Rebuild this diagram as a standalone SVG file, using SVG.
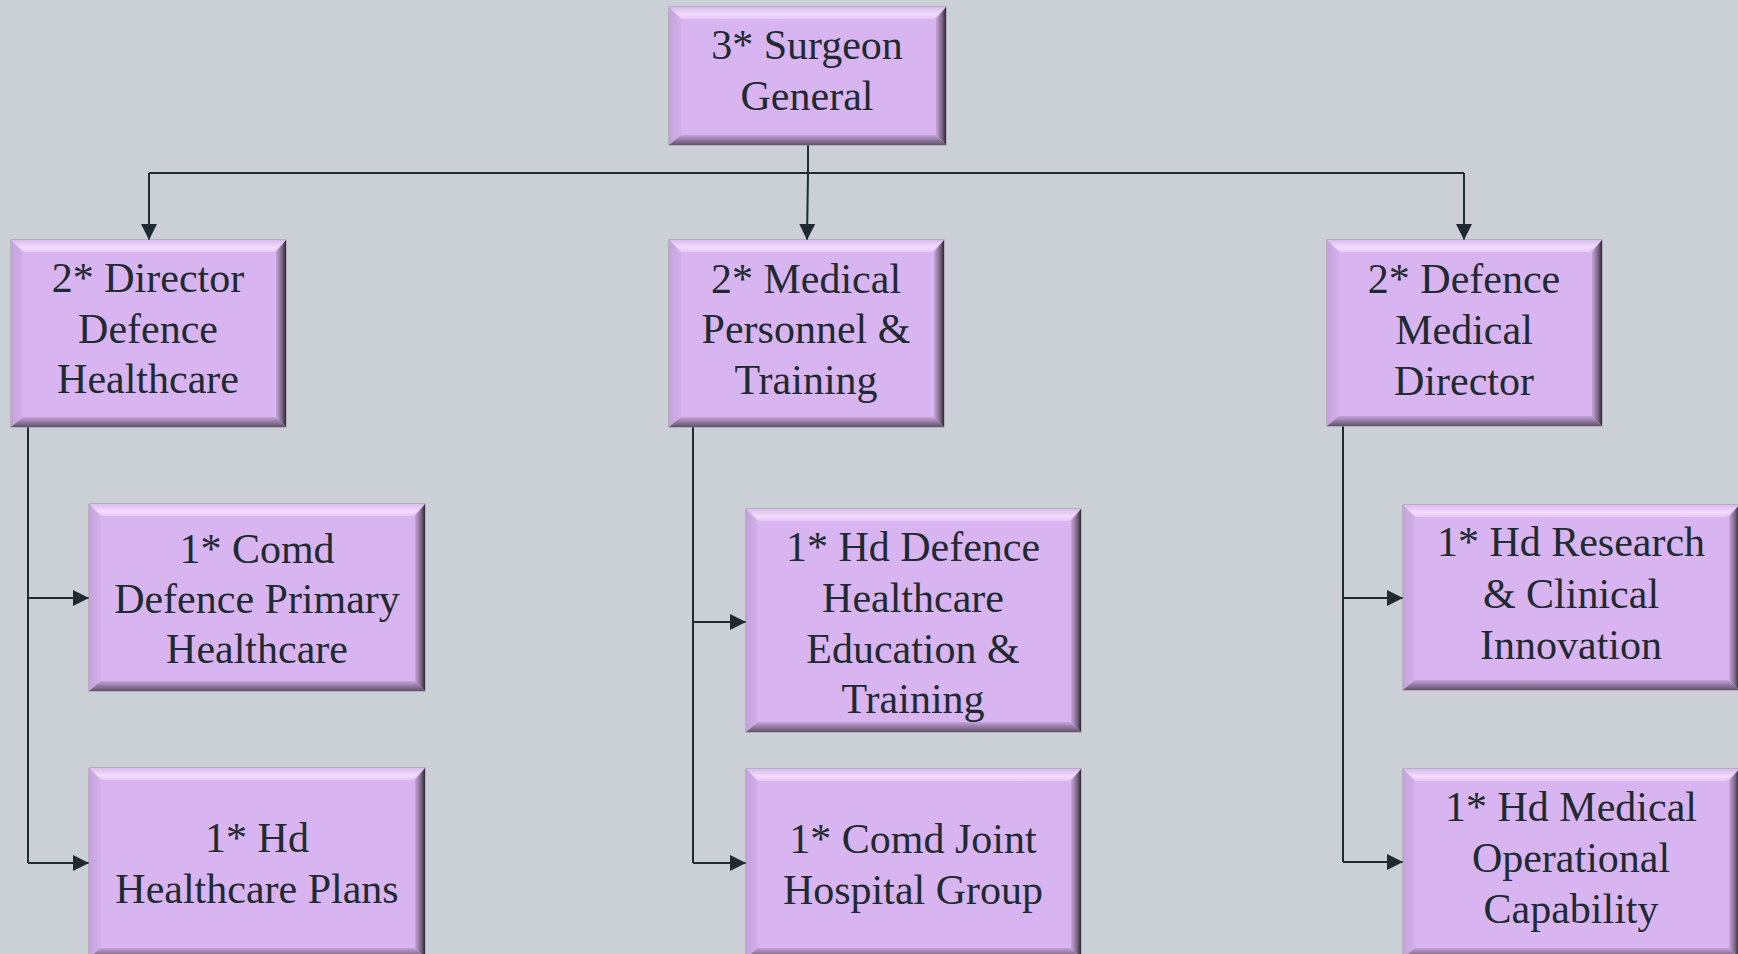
<svg xmlns="http://www.w3.org/2000/svg" width="1738" height="954" viewBox="0 0 1738 954">
<style>
.base{fill:#D8B4F1;stroke:#9C8FA3;stroke-width:1}
.bt{fill:url(#gTop)}
.bb{fill:url(#gBot)}
.bl{fill:url(#gLeft)}
.br{fill:url(#gRight)}
.c{fill:none;stroke:#1F2A31;stroke-width:2}
</style>
<defs>
<linearGradient id="gTop" x1="0" y1="0" x2="0" y2="1"><stop offset="0" stop-color="#D9BCEC"/><stop offset="0.6" stop-color="#F3DCFD"/><stop offset="1" stop-color="#E6C8F8"/></linearGradient>
<linearGradient id="gBot" x1="0" y1="0" x2="0" y2="1"><stop offset="0" stop-color="#C6A3DB"/><stop offset="1" stop-color="#5F5068"/></linearGradient>
<linearGradient id="gLeft" x1="0" y1="0" x2="1" y2="0"><stop offset="0" stop-color="#C5A2DA"/><stop offset="1" stop-color="#D4B0EC"/></linearGradient>
<linearGradient id="gRight" x1="0" y1="0" x2="1" y2="0"><stop offset="0" stop-color="#C7A4DC"/><stop offset="0.6" stop-color="#7C6886"/><stop offset="1" stop-color="#2C2833"/></linearGradient>
<marker id="arr" markerUnits="userSpaceOnUse" markerWidth="16" markerHeight="16" viewBox="0 0 16 16" refX="16" refY="8" orient="auto"><path d="M0,0 L16,8 L0,16 z" fill="#1F2A31"/></marker>
</defs>
<rect width="1738" height="954" fill="#CBD0D7"/>

<g id="connectors">
<polyline class="c" points="808,145 808,173"/>
<polyline class="c" points="149,173 1464,173"/>
<polyline class="c" points="149,173 149,240" marker-end="url(#arr)"/>
<polyline class="c" points="808,173 807,240" marker-end="url(#arr)"/>
<polyline class="c" points="1464,173 1464,240" marker-end="url(#arr)"/>
<polyline class="c" points="28,427 28,863"/>
<polyline class="c" points="28,598 89,598" marker-end="url(#arr)"/>
<polyline class="c" points="28,863 89,863" marker-end="url(#arr)"/>
<polyline class="c" points="693,427 693,863"/>
<polyline class="c" points="693,622 746,622" marker-end="url(#arr)"/>
<polyline class="c" points="693,863 746,863" marker-end="url(#arr)"/>
<polyline class="c" points="1343,426 1343,862"/>
<polyline class="c" points="1343,598 1403,598" marker-end="url(#arr)"/>
<polyline class="c" points="1343,862 1403,862" marker-end="url(#arr)"/>
</g>

<g id="nodes" font-family="Liberation Serif, Times New Roman, serif" font-size="42" fill="#1F2A31" text-anchor="middle">
<g id="n-sg">
<rect class="base" x="669" y="7" width="277" height="138"/>
<polygon class="bt" points="669,7 946,7 934,19 681,19"/>
<polygon class="bl" points="669,7 681,19 681,135 669,145"/>
<polygon class="br" points="946,7 936,19 936,135 946,145"/>
<polygon class="bb" points="669,145 946,145 936,135 681,135"/>
<text x="807" y="59">3* Surgeon</text>
<text x="807" y="110">General</text>
</g>

<g id="n-ddh">
<rect class="base" x="11" y="240" width="275" height="187"/>
<polygon class="bt" points="11,240 286,240 274,252 23,252"/>
<polygon class="bl" points="11,240 23,252 23,417 11,427"/>
<polygon class="br" points="286,240 276,252 276,417 286,427"/>
<polygon class="bb" points="11,427 286,427 276,417 23,417"/>
<text x="148" y="292">2* Director</text>
<text x="148" y="343">Defence</text>
<text x="148" y="393">Healthcare</text>
</g>

<g id="n-mpt">
<rect class="base" x="669" y="240" width="275" height="187"/>
<polygon class="bt" points="669,240 944,240 932,252 681,252"/>
<polygon class="bl" points="669,240 681,252 681,417 669,427"/>
<polygon class="br" points="944,240 934,252 934,417 944,427"/>
<polygon class="bb" points="669,427 944,427 934,417 681,417"/>
<text x="806" y="293">2* Medical</text>
<text x="806" y="343">Personnel &amp;</text>
<text x="806" y="394">Training</text>
</g>

<g id="n-dmd">
<rect class="base" x="1327" y="240" width="275" height="186"/>
<polygon class="bt" points="1327,240 1602,240 1590,252 1339,252"/>
<polygon class="bl" points="1327,240 1339,252 1339,416 1327,426"/>
<polygon class="br" points="1602,240 1592,252 1592,416 1602,426"/>
<polygon class="bb" points="1327,426 1602,426 1592,416 1339,416"/>
<text x="1464" y="293">2* Defence</text>
<text x="1464" y="344">Medical</text>
<text x="1464" y="395">Director</text>
</g>

<g id="n-dph">
<rect class="base" x="89" y="504" width="336" height="187"/>
<polygon class="bt" points="89,504 425,504 413,516 101,516"/>
<polygon class="bl" points="89,504 101,516 101,681 89,691"/>
<polygon class="br" points="425,504 415,516 415,681 425,691"/>
<polygon class="bb" points="89,691 425,691 415,681 101,681"/>
<text x="257" y="563">1* Comd</text>
<text x="257" y="613">Defence Primary</text>
<text x="257" y="663">Healthcare</text>
</g>

<g id="n-hp">
<rect class="base" x="89" y="768" width="336" height="190"/>
<polygon class="bt" points="89,768 425,768 413,780 101,780"/>
<polygon class="bl" points="89,768 101,780 101,948 89,958"/>
<polygon class="br" points="425,768 415,780 415,948 425,958"/>
<polygon class="bb" points="89,958 425,958 415,948 101,948"/>
<text x="257" y="852">1* Hd</text>
<text x="257" y="903">Healthcare Plans</text>
</g>

<g id="n-het">
<rect class="base" x="746" y="509" width="335" height="223"/>
<polygon class="bt" points="746,509 1081,509 1069,521 758,521"/>
<polygon class="bl" points="746,509 758,521 758,722 746,732"/>
<polygon class="br" points="1081,509 1071,521 1071,722 1081,732"/>
<polygon class="bb" points="746,732 1081,732 1071,722 758,722"/>
<text x="913" y="561">1* Hd Defence</text>
<text x="913" y="612">Healthcare</text>
<text x="913" y="663">Education &amp;</text>
<text x="913" y="713">Training</text>
</g>

<g id="n-jhg">
<rect class="base" x="746" y="769" width="335" height="189"/>
<polygon class="bt" points="746,769 1081,769 1069,781 758,781"/>
<polygon class="bl" points="746,769 758,781 758,948 746,958"/>
<polygon class="br" points="1081,769 1071,781 1071,948 1081,958"/>
<polygon class="bb" points="746,958 1081,958 1071,948 758,948"/>
<text x="913" y="853">1* Comd Joint</text>
<text x="913" y="904">Hospital Group</text>
</g>

<g id="n-rci">
<rect class="base" x="1403" y="505" width="336" height="185"/>
<polygon class="bt" points="1403,505 1739,505 1727,517 1415,517"/>
<polygon class="bl" points="1403,505 1415,517 1415,680 1403,690"/>
<polygon class="br" points="1739,505 1729,517 1729,680 1739,690"/>
<polygon class="bb" points="1403,690 1739,690 1729,680 1415,680"/>
<text x="1571" y="556">1* Hd Research</text>
<text x="1571" y="608">&amp; Clinical</text>
<text x="1571" y="659">Innovation</text>
</g>

<g id="n-moc">
<rect class="base" x="1403" y="769" width="336" height="189"/>
<polygon class="bt" points="1403,769 1739,769 1727,781 1415,781"/>
<polygon class="bl" points="1403,769 1415,781 1415,948 1403,958"/>
<polygon class="br" points="1739,769 1729,781 1729,948 1739,958"/>
<polygon class="bb" points="1403,958 1739,958 1729,948 1415,948"/>
<text x="1571" y="821">1* Hd Medical</text>
<text x="1571" y="872">Operational</text>
<text x="1571" y="923">Capability</text>
</g>
</g>
</svg>
